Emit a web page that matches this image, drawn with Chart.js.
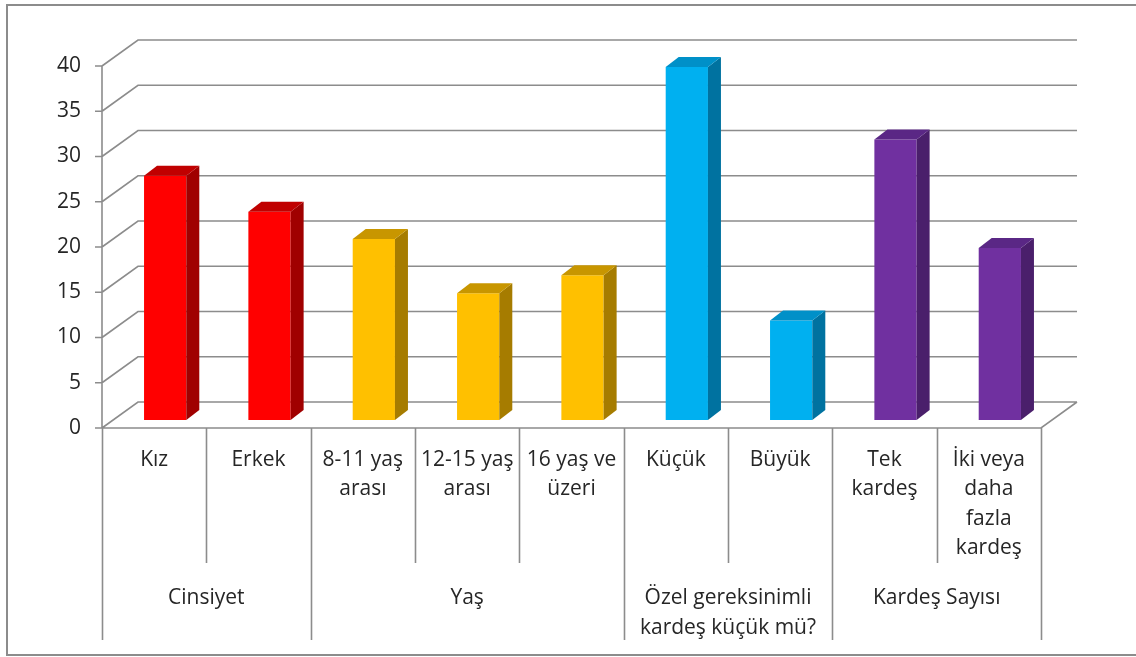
<!DOCTYPE html>
<html>
<head>
<meta charset="utf-8">
<script src="https://cdn.jsdelivr.net/npm/chart.js@4"></script>
<style>
  html, body { margin: 0; padding: 0; background: #fff; }
  canvas { display: block; }
</style>
</head>
<body>
<canvas id="chart" width="1136" height="657"></canvas>
<script>
// -------- Data ----------
const categories = [
  ["Kız"], ["Erkek"],
  ["8-11 yaş", "arası"], ["12-15 yaş", "arası"], ["16 yaş ve", "üzeri"],
  ["Küçük"], ["Büyük"],
  ["Tek", "kardeş"], ["İki veya", "daha", "fazla", "kardeş"]
];
const values = [27, 23, 20, 14, 16, 39, 11, 31, 19];
const groups = [["Cinsiyet"], ["Yaş"], ["Özel gereksinimli", "kardeş küçük mü?"], ["Kardeş Sayısı"]];
const groupSizes = [2, 3, 2, 2];
const yTicks = [0, 5, 10, 15, 20, 25, 30, 35, 40];

// colours per group: front, side, top
const groupFront = ["#FF0000", "#FFC000", "#00B0F0", "#7030A0"];
const groupSide  = ["#A00000", "#A67C00", "#0072A0", "#4A1F6B"];
const groupTop   = ["#C00000", "#C89600", "#0090C8", "#5A2785"];

// -------- Helpers ----------
const FONT = '21px "Open Sans", "DejaVu Sans", sans-serif';
const GRID = "#8c8c8c";
const TEXT = "#262626";
// offsets from the bar plane to the front / back planes of the 3D box
const frontOff = { x: -11, y: 8 };
const backOff = { x: 25, y: -18 };
const barDepth = { x: 13, y: -10 };

function groupOf(i) {
  let acc = 0;
  for (let g = 0; g < groupSizes.length; g++) {
    acc += groupSizes[g];
    if (i < acc) return g;
  }
  return groupSizes.length - 1;
}
const barGroup = values.map((_, i) => groupOf(i));

function poly(ctx, pts, fill) {
  ctx.beginPath();
  ctx.moveTo(pts[0][0], pts[0][1]);
  for (let k = 1; k < pts.length; k++) ctx.lineTo(pts[k][0], pts[k][1]);
  ctx.closePath();
  ctx.fillStyle = fill;
  ctx.fill();
}

// -------- 3D frame + labels plugin ----------
const frame3d = {
  id: "frame3d",
  beforeDraw(chart) {
    const ctx = chart.ctx;
    ctx.save();
    ctx.fillStyle = "#fff";
    ctx.fillRect(0, 0, chart.width, chart.height);
    // outer frame: left, top, bottom only (right edge is cropped)
    ctx.strokeStyle = "#8c8c8c";
    ctx.lineWidth = 2;
    ctx.beginPath();
    ctx.moveTo(chart.width, 5);
    ctx.lineTo(7, 5);
    ctx.lineTo(7, 655);
    ctx.lineTo(chart.width, 655);
    ctx.stroke();
    ctx.restore();
  },
  beforeDatasetsDraw(chart) {
    const ctx = chart.ctx;
    const xs = chart.scales.x, ys = chart.scales.y;
    const L = xs.left, R = xs.right;
    ctx.save();
    ctx.strokeStyle = GRID;
    ctx.lineWidth = 1.6;
    ctx.beginPath();
    yTicks.forEach(v => {
      const y = ys.getPixelForValue(v);
      ctx.moveTo(L + frontOff.x, y + frontOff.y);
      ctx.lineTo(L + backOff.x, y + backOff.y);
      ctx.lineTo(R + backOff.x, y + backOff.y);
    });
    // floor
    const y0 = ys.getPixelForValue(0);
    ctx.moveTo(L + frontOff.x, y0 + frontOff.y);
    ctx.lineTo(R + frontOff.x, y0 + frontOff.y);
    ctx.lineTo(R + backOff.x, y0 + backOff.y);
    // value axis
    const yTop = ys.getPixelForValue(yTicks[yTicks.length - 1]);
    ctx.moveTo(L + frontOff.x, yTop + frontOff.y);
    ctx.lineTo(L + frontOff.x, y0 + frontOff.y);
    yTicks.forEach(v => {
      const y = ys.getPixelForValue(v) + frontOff.y;
      ctx.moveTo(L + frontOff.x - 7, y);
      ctx.lineTo(L + frontOff.x, y);
    });
    ctx.stroke();

    ctx.fillStyle = TEXT;
    ctx.font = FONT;
    ctx.textAlign = "right";
    ctx.textBaseline = "middle";
    yTicks.forEach(v => {
      ctx.fillText(String(v), L + frontOff.x - 21, ys.getPixelForValue(v) + frontOff.y);
    });
    ctx.restore();
  },
  afterDatasetsDraw(chart) {
    const ctx = chart.ctx;
    const meta = chart.getDatasetMeta(0);
    ctx.save();
    meta.data.forEach((bar, i) => {
      const p = bar.getProps(["x", "y", "base", "width"], true);
      const l = p.x - p.width / 2, r = p.x + p.width / 2;
      const top = p.y, bot = p.base;
      const g = barGroup[i];
      poly(ctx, [[r, top], [r + barDepth.x, top + barDepth.y], [r + barDepth.x, bot + barDepth.y], [r, bot]], groupSide[g]);
      poly(ctx, [[l, top], [l + barDepth.x, top + barDepth.y], [r + barDepth.x, top + barDepth.y], [r, top]], groupTop[g]);
    });
    ctx.restore();
  },
  afterDraw(chart) {
    const ctx = chart.ctx;
    const xs = chart.scales.x, ys = chart.scales.y;
    const n = categories.length;
    const fl = xs.left + frontOff.x;
    const catW = (xs.right - xs.left) / n;
    const yf = ys.getPixelForValue(0) + frontOff.y;
    ctx.save();
    ctx.strokeStyle = GRID;
    ctx.lineWidth = 1.6;

    // group boundaries
    const groupEdges = [0];
    groupSizes.reduce((a, s) => { groupEdges.push(a + s); return a + s; }, 0);

    ctx.beginPath();
    for (let i = 0; i <= n; i++) {
      const x = Math.round(fl + i * catW) + 0.5;
      const isGroup = groupEdges.includes(i);
      ctx.moveTo(x, yf);
      ctx.lineTo(x, yf + (isGroup ? 212 : 135));
    }
    ctx.stroke();

    ctx.fillStyle = TEXT;
    ctx.font = FONT;
    ctx.textAlign = "center";
    ctx.textBaseline = "middle";
    categories.forEach((lines, i) => {
      const cx = xs.getPixelForValue(i) + frontOff.x;
      lines.forEach((t, k) => ctx.fillText(t, cx, yf + 32 + k * 29.5));
    });
    groups.forEach((lines, g) => {
      const cx = fl + (groupEdges[g] + groupEdges[g + 1]) / 2 * catW;
      lines.forEach((t, k) => ctx.fillText(t, cx, yf + 170 + k * 30));
    });
    ctx.restore();
  }
};

// -------- Chart ----------
new Chart(document.getElementById("chart").getContext("2d"), {
  type: "bar",
  data: {
    labels: categories.map(c => c.join(" ")),
    datasets: [{
      data: values,
      backgroundColor: barGroup.map(g => groupFront[g]),
      borderWidth: 0,
      categoryPercentage: 1,
      barPercentage: 0.405
    }]
  },
  options: {
    responsive: false,
    animation: false,
    devicePixelRatio: 1,
    layout: { padding: { left: 113, right: 84, top: 58, bottom: 237 } },
    plugins: { legend: { display: false }, tooltip: { enabled: false } },
    scales: {
      x: { display: false, offset: true },
      y: { display: false, min: 0, max: 40, ticks: { stepSize: 5 } }
    }
  },
  plugins: [frame3d]
});
</script>
</body>
</html>
